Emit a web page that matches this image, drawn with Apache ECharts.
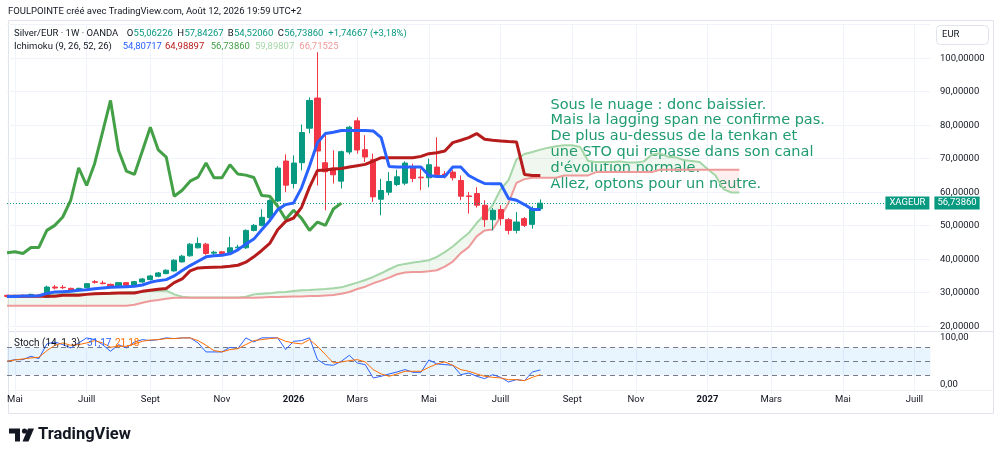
<!DOCTYPE html>
<html><head><meta charset="utf-8">
<script src="https://cdn.jsdelivr.net/npm/echarts@6/dist/echarts.min.js"></script>
<style>html,body{margin:0;padding:0;background:#fff}#c{width:1000px;height:458px}</style>
</head><body><div id="c"></div>
<script>
// ---- categories (weekly bars, Mondays) ----
const START = Date.UTC(2025, 3, 28);
const NCAT = 117;
const monthNames = ['Janv','Févr','Mars','Avr','Mai','Juin','Juill','Août','Sept','Oct','Nov','Déc'];
const categories = [];
for (let k = 0; k < NCAT; k++) categories.push(new Date(START + k * 7 * 864e5).toISOString().slice(0, 10));

// ---- candles [open, close, low, high] ----
const candles = [
[29.2,28.9,28.6,29.4],[28.6,29.2,28.4,29.4],[29.1,28.8,28.5,29.5],[28.8,29.5,28.6,29.7],[29.3,28.8,28.6,29.5],
[28.6,31.7,28.5,32.1],[31.7,31.4,31.0,32.3],[31.6,31.5,31.1,32.3],[31.3,30.6,30.4,31.5],[30.6,31.3,30.4,31.5],
[31.5,32.7,31.3,32.9],[33.3,33.1,32.7,33.8],[32.9,32.7,32.5,33.6],[32.5,31.9,31.7,32.7],[31.9,33.0,31.7,33.2],
[33.0,32.2,32.0,33.2],[32.2,33.3,32.0,33.5],[33.2,34.1,33.0,34.4],[33.9,35.0,33.7,35.3],[34.9,35.9,34.6,36.2],
[35.7,36.7,35.5,37.0],[36.5,39.7,36.3,40.0],[39.2,40.9,39.0,41.3],[41.0,44.5,40.8,44.8],[43.4,44.7,43.2,46.5],
[44.5,41.7,41.3,44.9],[41.8,42.1,41.0,42.5],[42.2,41.7,41.4,42.4],[42.0,43.4,41.8,46.7],[43.4,43.6,42.9,44.3],
[43.4,48.6,43.1,48.9],[48.6,50.1,48.3,50.5],[50.1,52.5,49.8,54.9],[52.4,57.5,52.1,57.9],[57.4,67.2,57.1,67.8],
[69.3,62.1,60.0,71.3],[62.6,68.7,61.1,71.0],[68.8,77.8,66.5,80.2],[79.1,87.4,77.6,88.3],[88.1,72.3,62.0,101.8],
[68.8,66.1,54.6,77.8],[67.2,65.2,62.6,72.5],[63.3,72.1,61.1,72.4],[72.0,79.4,71.3,79.8],[81.3,72.6,71.5,82.3],
[72.7,70.5,69.0,77.0],[69.7,58.6,57.1,71.5],[57.9,60.5,53.1,64.0],[60.0,63.2,59.1,66.0],[62.3,64.6,61.8,66.7],
[62.7,68.7,62.1,69.2],[67.5,64.1,63.0,68.5],[64.5,64.3,60.6,67.0],[64.3,68.2,61.5,70.0],[67.5,65.3,64.5,76.4],
[65.4,65.1,64.1,66.3],[66.0,64.3,63.5,66.6],[63.5,58.8,57.6,65.0],[58.9,58.7,53.6,60.1],[59.6,56.1,55.4,61.5],
[56.1,51.8,49.6,57.6],[51.8,54.6,48.6,55.3],[54.8,52.1,50.1,56.1],[51.8,48.6,47.4,52.3],[48.6,51.1,47.7,54.1],
[52.1,50.1,49.6,52.6],[50.4,54.99193,49.1,55.8],[55.06226,56.7386,54.5206,57.84267]
];
const lastClose = 56.7386;

// ---- Ichimoku ----
const tenkan = [28.9,28.9,29.0,29.0,29.1,29.8,30.2,30.3,30.4,30.7,30.9,31.2,31.4,31.6,31.7,31.8,31.9,32.3,33.1,33.6,
33.9,35.0,36.6,38.1,39.4,40.7,41.0,41.2,41.6,42.8,44.5,46.0,48.8,51.5,54.8,56.3,56.8,61.3,67.8,74.8,
77.5,77.9,78.4,78.4,78.4,78.4,78.3,76.3,67.7,67.5,67.5,67.5,67.5,65.0,64.7,64.7,67.5,67.5,65.0,63.7,
62.6,62.55,62.55,58.1,57.6,56.3,54.81,54.80717];
const kijun = [28.95,28.95,28.95,28.95,28.95,28.95,28.95,29.25,29.25,29.25,29.5,29.7,29.75,29.8,29.9,29.9,29.9,30.4,30.7,31.0,
31.25,33.0,34.1,36.5,37.4,37.5,37.6,37.7,37.9,38.2,39.1,40.7,42.6,44.7,48.8,51.3,52.3,55.5,61.5,66.5,
66.6,66.9,67.1,67.5,67.9,68.3,69.3,70.3,70.3,70.3,70.3,70.3,70.7,71.5,71.8,72.3,74.8,75.5,76.3,77.5,
75.8,75.5,75.3,75.1,75.0,65.3,65.0,64.98897];
const lagging = [41.9,42.2,41.7,43.5,43.5,48.6,50.1,52.6,57.6,67.3,62.0,68.5,77.9,87.4,72.5,66.3,65.3,72.3,79.4,72.6,
70.5,58.8,60.6,63.3,64.5,68.7,64.3,64.3,68.2,65.4,65.1,64.4,59.0,58.8,55.8,51.9,54.6,52.2,48.6,51.1,
50.1,54.99,56.74];
const senkouA = [29.0,29.0,29.0,29.0,29.0,29.2,29.5,29.6,29.6,29.6,29.6,29.6,29.6,29.6,29.9,30.1,30.2,30.3,30.5,30.6,
30.6,29.5,28.8,28.6,28.6,28.6,28.6,28.6,28.6,28.6,28.8,29.5,29.7,29.8,30.1,30.2,30.5,30.7,30.8,30.95,
31.1,31.3,31.6,32.3,33.0,33.8,34.7,35.8,37.0,38.1,38.6,39.0,39.3,39.7,40.7,42.1,43.8,45.9,47.8,50.8,
53.3,56.1,60.8,63.6,69.8,71.4,72.0,72.7,73.3,73.7,74.0,74.0,73.5,69.3,69.0,69.0,69.0,69.2,68.9,68.9,
69.2,71.2,71.6,70.6,70.4,69.6,69.3,69.0,66.9,65.0,60.9,59.9,59.89807];
const senkouB = [26.1,26.1,26.1,26.1,26.1,26.1,26.1,26.1,26.1,26.1,26.1,26.1,26.1,26.1,26.1,26.1,26.4,27.0,27.5,27.8,
28.2,28.5,28.5,28.5,28.5,28.5,28.5,28.5,28.5,28.5,28.5,28.5,28.6,28.7,28.7,28.8,28.9,28.9,29.0,29.0,
29.2,29.3,29.7,30.2,31.1,31.8,32.8,33.6,34.5,35.5,36.0,36.2,36.2,36.4,36.7,37.8,39.3,41.8,43.6,46.8,
48.6,48.9,52.6,56.8,62.8,63.9,64.3,64.3,64.3,64.3,65.0,65.0,65.0,65.0,66.0,66.0,66.0,66.0,66.0,66.0,
66.0,66.0,66.7,66.7,66.7,66.7,66.7,66.7,66.7,66.7,66.7,66.7,66.71525];

// ---- Stochastic (14,1,3) ----
const stochK = [49.8,53.4,53.4,60.5,55.5,87.0,91.2,85.5,78.4,89.1,99.8,96.2,85.5,71.2,85.5,78.4,91.2,96.2,94.1,96.2,
100,98.4,99.8,100,89.1,69.8,69.8,69.8,79.8,76.9,99.8,91.2,100,100,100,74.8,92.6,94.1,100,53.4,
42.7,41.2,49.8,62.7,46.2,42.7,14.1,17.7,22.7,27.0,32.0,26.2,26.2,52.7,44.1,42.7,41.2,21.2,24.8,17.7,
12.7,21.2,15.5,5.5,10.5,8.4,27.0,31.17];
const stochD = [49.8,52.7,54.8,56.9,58.4,72.6,84.1,89.1,84.1,85.5,89.1,94.1,89.1,79.8,81.9,81.9,87.0,92.6,95.5,96.2,
98.4,98.4,99.8,99.8,94.1,84.1,72.6,69.8,74.8,76.9,85.5,94.1,96.2,98.4,99.8,92.6,89.1,87.0,96.2,81.9,
64.1,46.2,48.4,51.2,53.4,48.4,32.0,22.7,17.7,22.7,28.4,28.4,28.4,36.9,44.1,48.4,41.2,32.0,28.4,22.7,
17.7,15.5,14.1,10.5,10.5,8.4,15.5,21.18];

const annotation = [
  'Sous le nuage : donc baissier.',
  'Mais la lagging span ne confirme pas.',
  'De plus au-dessus de la tenkan et',
  'une STO qui repasse dans son canal',
  "d'évolution normale.",
  'Allez, optons pour un neutre.'
];

// ---- helpers ----
const labelIdx = {};
for (let k = 1; k < NCAT; k++) {
  const m = +categories[k].slice(5, 7) - 1, pm = +categories[k - 1].slice(5, 7) - 1;
  if (m !== pm && m % 2 === 0) labelIdx[k] = m === 0 ? '{y|' + categories[k].slice(0, 4) + '}' : monthNames[m];
}
const showIdx = (i) => labelIdx[i] !== undefined;
const pad = (arr) => categories.map((_, k) => k < arr.length ? arr[k] : '-');
const fmt = (v, d) => v.toFixed(d).replace('.', ',');
const cloudBase = senkouA.map((a, k) => Math.min(a, senkouB[k]));
const cloudGreen = senkouA.map((a, k) => a > senkouB[k] ? +(a - senkouB[k]).toFixed(5) : 0);
const cloudRed = senkouA.map((a, k) => senkouB[k] > a ? +(senkouB[k] - a).toFixed(5) : 0);

const FONT = 'Roboto';
const STEP = 7.96, X0 = 7.04;
const gridRight = 1000 - (X0 + STEP * (NCAT - 1));
const TXT = '#131722', UP = '#089981', DOWN = '#f23645';

function txt(x, y, text, fill, size, weight, family, z) {
  return { type: 'text', x: x, y: y, z: z || 20, silent: true,
    style: { text: text, fill: fill, fontSize: size || 9.5, fontWeight: weight || 'normal',
      fontFamily: family || FONT, verticalAlign: 'middle', align: 'left' } };
}

const chart = echarts.init(document.getElementById('c'));
chart.setOption({
  animation: false,
  backgroundColor: '#fff',
  grid: [
    { left: X0, right: gridRight, top: 24.7, height: 301.5 },
    { left: X0, right: gridRight, top: 328.5, height: 65.4 }
  ],
  xAxis: [
    { type: 'category', gridIndex: 0, data: categories, boundaryGap: false,
      axisLine: { show: false }, axisTick: { show: false, interval: showIdx }, axisLabel: { show: false, interval: showIdx },
      splitLine: { show: true, interval: showIdx, lineStyle: { color: '#f0f3fa', width: 1 } } },
    { type: 'category', gridIndex: 1, data: categories, boundaryGap: false,
      axisLine: { show: false }, axisTick: { show: false, interval: showIdx },
      axisLabel: { interval: showIdx, margin: 1, color: TXT, fontSize: 9.5, fontFamily: FONT,
        formatter: (v, i) => labelIdx[i] || '',
        rich: { y: { fontWeight: 'bold', fontSize: 9.5, fontFamily: FONT, color: TXT } } },
      splitLine: { show: true, interval: showIdx, lineStyle: { color: '#f0f3fa', width: 1 } } }
  ],
  yAxis: [
    { type: 'value', gridIndex: 0, position: 'right', min: 20, max: 110, interval: 10,
      axisLine: { show: false }, axisTick: { show: false },
      axisLabel: { margin: 9.6, color: TXT, fontSize: 9.5, fontFamily: FONT,
        formatter: v => v >= 110 ? '' : fmt(v, 5) },
      splitLine: { lineStyle: { color: '#f0f3fa', width: 1 } } },
    { type: 'value', gridIndex: 1, position: 'right', min: -20, max: 120, interval: 20,
      axisLine: { show: false }, axisTick: { show: false },
      axisLabel: { margin: 9.6, color: TXT, fontSize: 9.5, fontFamily: FONT,
        formatter: v => (v === 100 || v === 0) ? fmt(v, 2) : '' },
      splitLine: { show: false } }
  ],
  series: [
    { name: 'cloudBaseG', type: 'line', stack: 'g', data: pad(cloudBase), symbol: 'none', silent: true, z: 1,
      lineStyle: { width: 0 } },
    { name: 'cloudGreen', type: 'line', stack: 'g', data: pad(cloudGreen), symbol: 'none', silent: true, z: 1,
      lineStyle: { width: 0 }, areaStyle: { color: 'rgba(67,160,71,0.12)' } },
    { name: 'cloudBaseR', type: 'line', stack: 'r', data: pad(cloudBase), symbol: 'none', silent: true, z: 1,
      lineStyle: { width: 0 } },
    { name: 'cloudRed', type: 'line', stack: 'r', data: pad(cloudRed), symbol: 'none', silent: true, z: 1,
      lineStyle: { width: 0 }, areaStyle: { color: 'rgba(244,67,54,0.12)' } },
    { name: 'Senkou A', type: 'line', data: pad(senkouA), symbol: 'none', z: 3,
      lineStyle: { color: '#a5d6a7', width: 2 } },
    { name: 'Senkou B', type: 'line', data: pad(senkouB), symbol: 'none', z: 3,
      lineStyle: { color: '#ef9a9a', width: 2 } },
    { name: 'Silver/EUR', type: 'candlestick', data: pad(candles), barWidth: 5.6, z: 4,
      itemStyle: { color: UP, color0: DOWN, borderColor: UP, borderColor0: DOWN, borderWidth: 1 },
      markLine: { silent: true, symbol: ['none', 'none'], animation: false,
        lineStyle: { color: UP, type: [1, 2], width: 1 },
        data: [
          { yAxis: lastClose, label: { show: true, position: 'end', distance: 4, formatter: fmt(lastClose, 5),
              color: '#fff', backgroundColor: UP, padding: [2, 3, 1, 3], fontSize: 9.5, fontFamily: FONT } }
        ] } },
    { name: 'Price tag', type: 'line', data: pad([]), symbol: 'none', z: 6, silent: true,
      lineStyle: { width: 0 },
      markLine: { silent: true, symbol: ['none', 'none'], animation: false,
        lineStyle: { color: 'rgba(0,0,0,0)', width: 0 },
        data: [
          { yAxis: lastClose, label: { show: true, position: 'insideEnd', distance: 1, formatter: 'XAGEUR',
              color: '#fff', backgroundColor: UP, padding: [2, 4, 1, 4], fontSize: 9.5, fontFamily: FONT } }
        ] } },
    { name: 'Lagging', type: 'line', data: pad(lagging), symbol: 'none', z: 5,
      lineStyle: { color: '#43a047', width: 3 } },
    { name: 'Kijun', type: 'line', data: pad(kijun), symbol: 'none', z: 5,
      lineStyle: { color: '#b71c1c', width: 3 } },
    { name: 'Tenkan', type: 'line', data: pad(tenkan), symbol: 'none', z: 5,
      lineStyle: { color: '#2962ff', width: 3 } },
    { name: '%K', type: 'line', xAxisIndex: 1, yAxisIndex: 1, data: pad(stochK), symbol: 'none', z: 5,
      lineStyle: { color: '#2962ff', width: 1 },
      markArea: { silent: true, itemStyle: { color: 'rgba(33,150,243,0.1)' },
        data: [[{ yAxis: 20 }, { yAxis: 80 }]] },
      markLine: { silent: true, symbol: ['none', 'none'], label: { show: false },
        lineStyle: { color: '#787b86', type: [5, 4], width: 1 },
        data: [{ yAxis: 80 }, { yAxis: 50 }, { yAxis: 20 }] } },
    { name: '%D', type: 'line', xAxisIndex: 1, yAxisIndex: 1, data: pad(stochD), symbol: 'none', z: 5,
      lineStyle: { color: '#ff6d00', width: 1 } }
  ],
  graphic: [
    { type: 'rect', silent: true, z: 0, shape: { x: 8.5, y: 20.5, width: 985, height: 393 },
      style: { fill: 'none', stroke: '#e0e3eb', lineWidth: 1 } },
    { type: 'line', silent: true, z: 0, shape: { x1: 8.5, y1: 331.5, x2: 993.5, y2: 331.5 },
      style: { stroke: '#e0e3eb', lineWidth: 1 } },
    { type: 'line', silent: true, z: 0, shape: { x1: 8.5, y1: 390.5, x2: 993.5, y2: 390.5 },
      style: { stroke: '#eef0f4', lineWidth: 1 } },
    txt(8, 12, 'FOULPOINTE créé avec TradingView.com, Août 12, 2026 19:59 UTC+2', TXT),
    txt(14, 33.5, 'Silver/EUR · 1W · OANDA', TXT),
    txt(126.7, 33.5, 'O', TXT), txt(133.6, 33.5, '55,06226', UP),
    txt(177.3, 33.5, 'H', TXT), txt(184.4, 33.5, '57,84267', UP),
    txt(227.7, 33.5, 'B', TXT), txt(234, 33.5, '54,52060', UP),
    txt(277.7, 33.5, 'C', TXT), txt(284.2, 33.5, '56,73860', UP),
    txt(328.3, 33.5, '+1,74667 (+3,18%)', UP),
    txt(14, 46.5, 'Ichimoku (9, 26, 52, 26)', TXT),
    txt(122.7, 46.5, '54,80717', '#2962ff'),
    txt(165, 46.5, '64,98897', '#b71c1c'),
    txt(210.7, 46.5, '56,73860', '#43a047'),
    txt(255, 46.5, '59,89807', '#a5d6a7'),
    txt(299.3, 46.5, '66,71525', '#ef9a9a'),
    { type: 'rect', silent: true, z: 20, shape: { x: 936.5, y: 25.5, width: 52, height: 19, r: 4 },
      style: { fill: '#fff', stroke: '#e0e3eb', lineWidth: 1 } },
    txt(942, 35, 'EUR', TXT, 9.5, 'normal', FONT, 21),
    txt(14, 343, 'Stoch (14, 1, 3)', TXT, 10),
    txt(87, 343, '31,17', '#2962ff', 10),
    txt(115, 343, '21,18', '#ff6d00', 10),
    { type: 'text', x: 550.5, y: 97, z: 1, silent: true,
      style: { text: annotation.join('\n'), fill: '#1e9b6f', fontSize: 14.5, fontFamily: 'DejaVu Sans',
        lineHeight: 15.8, verticalAlign: 'top', align: 'left' } },
    { type: 'polygon', silent: true, z: 20,
      shape: { points: [[9, 428.5], [20, 428.5], [20, 441.5], [15, 441.5], [15, 433.5], [9, 433.5]] },
      style: { fill: TXT } },
    { type: 'circle', silent: true, z: 20, shape: { cx: 24.5, cy: 431, r: 2.6 }, style: { fill: TXT } },
    { type: 'polygon', silent: true, z: 20,
      shape: { points: [[28, 428.5], [34, 428.5], [28.5, 441.5], [22.5, 441.5]] },
      style: { fill: TXT } },
    txt(38, 435, 'TradingView', TXT, 16.5, 'bold', FONT)
  ]
});
</script>
</body></html>
